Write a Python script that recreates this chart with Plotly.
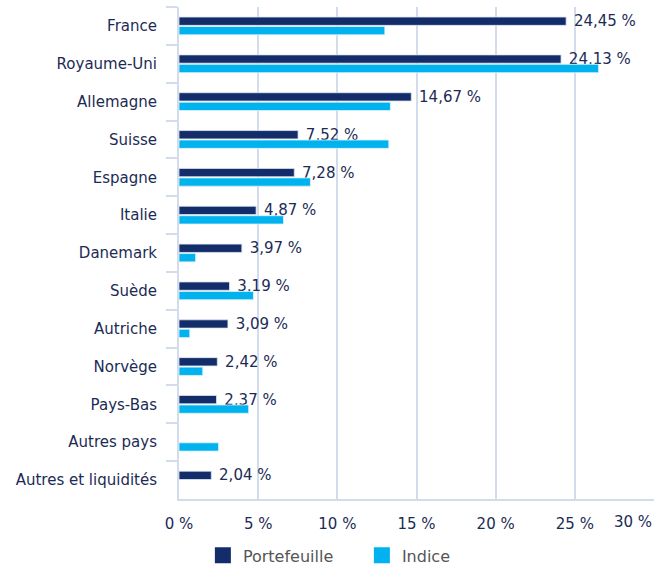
import plotly.graph_objects as go

categories = ["France", "Royaume-Uni", "Allemagne", "Suisse", "Espagne", "Italie",
              "Danemark", "Suède", "Autriche", "Norvège", "Pays-Bas", "Autres pays",
              "Autres et liquidités"]
portefeuille = [24.45, 24.13, 14.67, 7.52, 7.28, 4.87, 3.97, 3.19, 3.09, 2.42, 2.37, None, 2.04]
indice = [13.0, 26.5, 13.35, 13.25, 8.3, 6.6, 1.05, 4.7, 0.68, 1.5, 4.4, 2.5, None]
x_ticks = [0, 5, 10, 15, 20, 25, 30]

NAVY = "#132d6a"
CYAN = "#00b2ee"
TXT = "#1c2b55"
GRID = "#d3dcea"
FONT = "DejaVu Sans"

def fmt(v):
    return "" if v is None else f"{v:.2f}".replace(".", ",") + " %"

fig = go.Figure()
fig.add_trace(go.Bar(
    y=categories, x=portefeuille, orientation="h", name="Portefeuille",
    marker=dict(color=NAVY, line=dict(color="#dfe6f0", width=0.8)),
    text=[(" " + fmt(v)) if v is not None else "" for v in portefeuille],
    textposition="outside", cliponaxis=False, constraintext="none",
    textfont=dict(family=FONT, size=15, color=TXT), showlegend=False,
))
fig.add_trace(go.Bar(
    y=categories, x=indice, orientation="h", name="Indice",
    marker=dict(color=CYAN, line=dict(color="#dff3fb", width=0.8)),
    showlegend=False,
))
# legend entries
fig.add_trace(go.Scatter(x=[None], y=[None], mode="markers", name="Portefeuille",
                         marker=dict(symbol="square", size=16, color=NAVY)))
fig.add_trace(go.Scatter(x=[None], y=[None], mode="markers", name="Indice",
                         marker=dict(symbol="square", size=16, color=CYAN)))

fig.update_layout(
    width=667, height=572,
    margin=dict(l=179, r=13, t=7, b=73, autoexpand=False),
    paper_bgcolor="white", plot_bgcolor="white",
    barmode="group", bargap=0.5, bargroupgap=0.12,
    font=dict(family=FONT, size=15, color=TXT),
    legend=dict(orientation="h", x=0.385, xanchor="center", y=-0.08, yanchor="top",
                font=dict(family=FONT, size=16, color="#555555"),
                itemwidth=30, entrywidth=114, entrywidthmode="pixels",
                traceorder="normal"),
    xaxis=dict(range=[0, 30], tickvals=x_ticks,
               ticktext=[f"{t} %" for t in x_ticks[:-1]] + [""],
               showgrid=True, gridcolor=GRID, gridwidth=1.5,
               showline=True, linecolor=GRID, linewidth=2,
               zeroline=False, ticks="", ticklabelstandoff=10,
               tickfont=dict(family=FONT, size=15, color=TXT)),
    yaxis=dict(categoryorder="array", categoryarray=categories, autorange="reversed",
               showline=True, linecolor=GRID, linewidth=2,
               ticks="outside", tickson="boundaries", ticklen=11, tickcolor=GRID,
               tickwidth=1.5, showgrid=False, ticklabelstandoff=17,
               tickfont=dict(family=FONT, size=15, color=TXT)),
)
fig.add_annotation(x=30, y=0, xref="x", yref="paper", text=f"{x_ticks[-1]} %",
                   showarrow=False, xanchor="right", yanchor="top", yshift=-12,
                   font=dict(family=FONT, size=15, color=TXT))
fig.write_html("out.html")
